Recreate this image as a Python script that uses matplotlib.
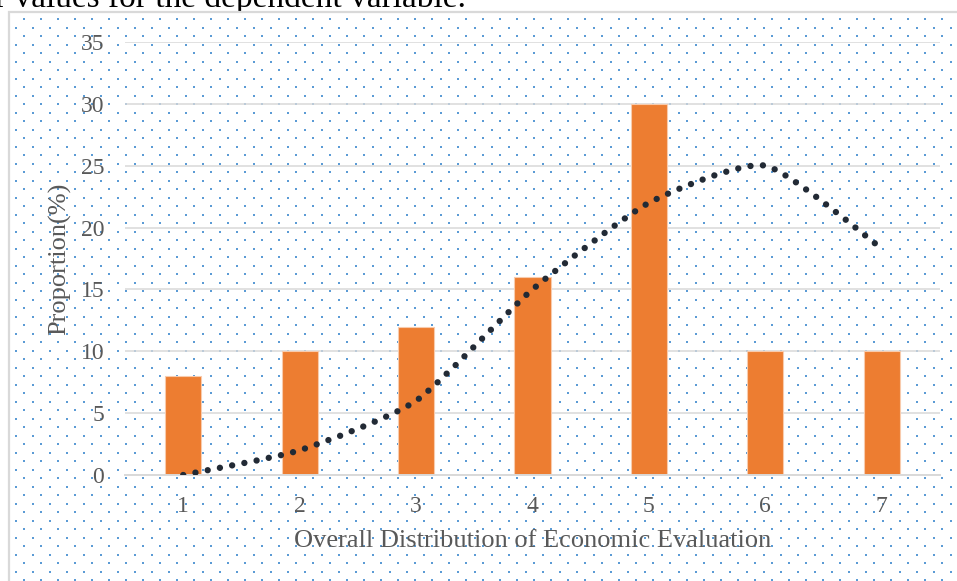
import numpy as np
import matplotlib
matplotlib.use("Agg")
import matplotlib.pyplot as plt
from matplotlib.patches import Rectangle, PathPatch
from matplotlib.path import Path

# ---- data ----
categories = ["1", "2", "3", "4", "5", "6", "7"]
bar_values = [8, 10, 12, 16, 30, 10, 10]
curve_values = [0, 2, 6, 15, 22, 25, 18.3]
y_ticks = [0, 5, 10, 15, 20, 25, 30, 35]
x_title = "Overall Distribution of Economic Evaluation"
y_title = "Proportion(%)"
caption = "r values for the dependent variable."

W, H = 957, 581
fig = plt.figure(figsize=(W / 100, H / 100), dpi=100)
fig.patch.set_facecolor("white")
serif = ["Liberation Serif", "DejaVu Serif"]

# ---- background layer (pixel coordinates) ----
bg = fig.add_axes([0, 0, 1, 1], zorder=0)
bg.set_xlim(0, W)
bg.set_ylim(H, 0)
bg.axis("off")
bg.text(466, 7.5, caption, ha="right", va="baseline", fontsize=24,
        family=serif, color="black", zorder=1)
bg.add_patch(Rectangle((9, 12), W + 20, H + 20, facecolor="white",
                       edgecolor="#D9D9D9", lw=1.6, zorder=2))
# dotted fill pattern
xs, ys = [], []
for n, yy in enumerate(np.arange(19, H + 5, 8.5)):
    x0 = 24 if n % 2 == 0 else 15.5
    for xx in np.arange(x0, W + 5, 17):
        xs.append(xx)
        ys.append(yy)
bg.scatter(xs, ys, s=3.0, marker="s", color="#5B9BD5", linewidths=0, zorder=3)

# ---- main chart ----
left, right, top, bottom = 125, 940, 42, 475
ax = fig.add_axes([left / W, (H - bottom) / H, (right - left) / W, (bottom - top) / H],
                  zorder=1)
ax.patch.set_alpha(0)
x = np.arange(1, len(categories) + 1)
ax.bar(x, bar_values, width=0.31, color="#ED7D31", edgecolor="#F8CBAD",
       linewidth=0.8, zorder=2)

# smoothed line through the points (Bezier segments)
k = 0.1
pts = np.column_stack([x, curve_values]).astype(float)
verts = [tuple(pts[0])]
codes = [Path.MOVETO]
for i in range(len(pts) - 1):
    p0 = pts[i - 1] if i > 0 else pts[i]
    p1, p2 = pts[i], pts[i + 1]
    p3 = pts[i + 2] if i + 2 < len(pts) else pts[i + 1]
    c1 = p1 + (p2 - p0) * k
    c2 = p2 - (p3 - p1) * k
    verts += [tuple(c1), tuple(c2), tuple(p2)]
    codes += [Path.CURVE4] * 3
curve = PathPatch(Path(verts, codes), facecolor="none", edgecolor="#222A35",
                  lw=4.6, linestyle=(0, (0.001, 1.95)), capstyle="round", zorder=3)
ax.add_patch(curve)

ax.set_xlim(0.5, len(categories) + 0.5)
ax.set_ylim(0, 35)
ax.set_yticks(y_ticks)
ax.set_xticks(x)
ax.set_xticklabels(categories)
ax.yaxis.grid(True, color="#D9D9D9", lw=1.1)
ax.set_axisbelow(True)
for s in ["top", "right", "left"]:
    ax.spines[s].set_visible(False)
ax.spines["bottom"].set_color("#D9D9D9")
ax.spines["bottom"].set_linewidth(1.4)
ax.tick_params(length=0, labelsize=17, labelcolor="#595959")
ax.tick_params(axis="y", pad=15)
ax.tick_params(axis="x", pad=15)
for lab in ax.get_xticklabels() + ax.get_yticklabels():
    lab.set_family(serif)

ax.set_xlabel(x_title, fontsize=19, family=serif, color="#595959", va="center")
ax.xaxis.set_label_coords(0.5, (bottom - 541) / (bottom - top))
ax.set_ylabel(y_title, fontsize=19, family=serif, color="#595959", va="center")
ax.yaxis.set_label_coords((60 - left) / (right - left), 0.5)

fig.savefig("out.png", dpi=100)
